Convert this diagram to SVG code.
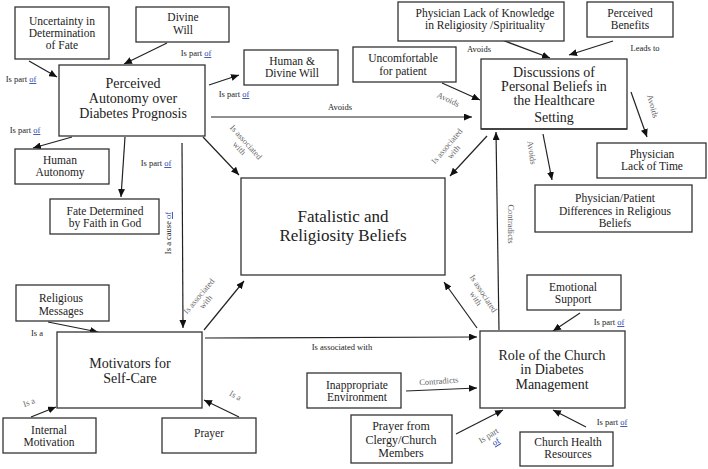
<svg xmlns="http://www.w3.org/2000/svg" width="708" height="469" viewBox="0 0 708 469" font-family="Liberation Serif, Times New Roman, serif">
<style>
.b{fill:#fff;stroke:#333;stroke-width:1.3}
.t{font-family:"Liberation Serif","Times New Roman",serif;fill:#222;text-anchor:middle}
.s12{font-size:11.5px}.s13{font-size:12px}.s14{font-size:14px}.s17{font-size:17px}
.l{font-family:"Liberation Serif","Times New Roman",serif;font-size:8.5px;fill:#222;text-anchor:middle}
.g{fill:#666}
.of{fill:#2a3fb0;text-decoration:underline}
.c{stroke:#222;stroke-width:1.2;fill:none;marker-end:url(#ah)}
</style>
<defs>
<marker id="ah" markerUnits="userSpaceOnUse" markerWidth="8" markerHeight="7" refX="8" refY="3.5" orient="auto">
<path d="M0,0 L8,3.5 L0,7 z" fill="#111"/>
</marker>
</defs>
<rect width="708" height="469" fill="#fff"/>

<g id="connectors">
<line class="c" x1="29" y1="61" x2="57" y2="77"/>
<line class="c" x1="167" y1="43" x2="124" y2="64"/>
<line class="c" x1="209" y1="85" x2="239" y2="75"/>
<line class="c" x1="211" y1="117" x2="472" y2="117"/>
<line class="c" x1="72" y1="137" x2="33" y2="148"/>
<line class="c" x1="125" y1="137" x2="121" y2="197"/>
<line class="c" x1="182" y1="143" x2="183" y2="328"/>
<line class="c" x1="203" y1="137" x2="239" y2="175"/>
<line class="c" x1="204" y1="330" x2="244" y2="281"/>
<line class="c" x1="205" y1="338" x2="477" y2="337"/>
<line class="c" x1="48" y1="322" x2="98" y2="332"/>
<line class="c" x1="31" y1="417" x2="56" y2="407"/>
<line class="c" x1="239" y1="417" x2="204" y2="400"/>
<line class="c" x1="406" y1="391" x2="477" y2="388"/>
<line class="c" x1="456" y1="434" x2="503" y2="410"/>
<line class="c" x1="580" y1="313" x2="553" y2="331"/>
<line class="c" x1="586" y1="427" x2="553" y2="410"/>
<line class="c" x1="477" y1="328" x2="444" y2="282"/>
<line class="c" x1="499" y1="330" x2="496" y2="132"/>
<line class="c" x1="487" y1="136" x2="450" y2="176"/>
<line class="c" x1="442" y1="83" x2="480" y2="100"/>
<line class="c" x1="502" y1="40" x2="550" y2="58"/>
<line class="c" x1="613" y1="41" x2="569" y2="55"/>
<line class="c" x1="631" y1="92" x2="647" y2="137"/>
<line class="c" x1="543" y1="134" x2="552" y2="180"/>

<text class="l" x="21" y="82">Is part <tspan class="of">of</tspan></text>
<text class="l" x="196" y="56">Is part <tspan class="of">of</tspan></text>
<text class="l" x="234" y="97">Is part <tspan class="of">of</tspan></text>
<text class="l" x="340" y="110">Avoids</text>
<text class="l" x="25" y="133">Is part <tspan class="of">of</tspan></text>
<text class="l" x="156" y="166">Is part <tspan class="of">of</tspan></text>
<text class="l" transform="translate(171,233) rotate(-90)">Is a cause <tspan class="of">of</tspan></text>
<g class="l g" transform="translate(244,144) rotate(48)"><text x="0" y="0">Is associated</text><text x="0" y="9">with</text></g>
<g class="l g" transform="translate(449,148) rotate(-50)"><text x="0" y="0">Is associated</text><text x="0" y="9">with</text></g>
<g class="l g" transform="translate(201,298) rotate(-50)"><text x="0" y="0">Is associated</text><text x="0" y="9">with</text></g>
<g class="l g" transform="translate(481,295) rotate(57)"><text x="0" y="0">Is associated</text><text x="0" y="9">with</text></g>
<text class="l" x="342" y="350">Is associated with</text>
<text class="l" x="37" y="336">Is a</text>
<text class="l g" transform="translate(30,405) rotate(-20)">Is a</text>
<text class="l g" transform="translate(234,398) rotate(30)">Is a</text>
<text class="l g" transform="translate(439,384) rotate(-4)">Contradicts</text>
<g class="l" transform="translate(490,438) rotate(-32)"><text class="g" x="0" y="0">Is part</text><text x="3" y="9" class="of">of</text></g>
<text class="l" x="609" y="325">Is part <tspan class="of">of</tspan></text>
<text class="l" x="612" y="425">Is part <tspan class="of">of</tspan></text>
<text class="l g" transform="translate(508,224) rotate(90)">Contradicts</text>
<text class="l g" transform="translate(447,102) rotate(25)">Avoids</text>
<text class="l" x="479" y="52">Avoids</text>
<text class="l" x="645" y="51">Leads to</text>
<text class="l g" transform="translate(650,107) rotate(75)">Avoids</text>
<text class="l g" transform="translate(529,153) rotate(82)">Avoids</text>
</g>

<g id="n-uncertainty"><rect class="b" x="15" y="7" width="94" height="52"/>
<text class="t s12" x="62" y="25">Uncertainty in</text><text class="t s12" x="62" y="37">Determination</text><text class="t s12" x="62" y="49">of Fate</text></g>
<g id="n-divine"><rect class="b" x="136" y="7" width="93" height="35"/>
<text class="t s12" x="183" y="21">Divine</text><text class="t s12" x="183" y="34">Will</text></g>
<g id="n-autonomy"><rect class="b" x="59" y="65" width="146" height="71"/>
<text class="t s14" x="133" y="88">Perceived</text><text class="t s14" x="133" y="103">Autonomy over</text><text class="t s14" x="133" y="118">Diabetes Prognosis</text></g>
<g id="n-humandivine"><rect class="b" x="244" y="50" width="94" height="35"/>
<text class="t s12" x="292" y="65">Human &amp;</text><text class="t s12" x="292" y="77">Divine Will</text></g>
<g id="n-uncomfortable"><rect class="b" x="353" y="47" width="103" height="35"/>
<text class="t s12" x="403" y="62">Uncomfortable</text><text class="t s12" x="403" y="75">for patient</text></g>
<g id="n-lackknowledge"><rect class="b" x="398" y="2" width="166" height="39"/>
<text class="t s12" x="485" y="17">Physician Lack of Knowledge</text><text class="t s12" x="485" y="29">in Religiosity /Spirituality</text></g>
<g id="n-benefits"><rect class="b" x="587" y="2" width="86" height="35"/>
<text class="t s12" x="630" y="17">Perceived</text><text class="t s12" x="630" y="29">Benefits</text></g>
<g id="n-discussions"><rect class="b" x="481" y="59" width="146" height="70"/>
<text class="t s14" x="554" y="77">Discussions of</text><text class="t s14" x="554" y="91">Personal Beliefs in</text><text class="t s14" x="554" y="105">the Healthcare</text><text class="t s14" x="554" y="122">Setting</text>
<line x1="481" y1="129" x2="627" y2="129" stroke="#333" stroke-width="1.3"/></g>
<g id="n-lacktime"><rect class="b" x="597" y="143" width="109" height="35"/>
<text class="t s12" x="652" y="158">Physician</text><text class="t s12" x="652" y="170">Lack of Time</text></g>
<g id="n-differences"><rect class="b" x="535" y="185" width="157" height="47"/>
<text class="t s12" x="615" y="202">Physician/Patient</text><text class="t s12" x="615" y="215">Differences in Religious</text><text class="t s12" x="615" y="227">Beliefs</text></g>
<g id="n-humanautonomy"><rect class="b" x="15" y="149" width="94" height="35"/>
<text class="t s12" x="60" y="164">Human</text><text class="t s12" x="60" y="176">Autonomy</text></g>
<g id="n-fate"><rect class="b" x="50" y="199" width="109" height="35"/>
<text class="t s12" x="105" y="215">Fate Determined</text><text class="t s12" x="105" y="227">by Faith in God</text></g>
<g id="n-fatalistic"><rect class="b" x="241" y="178" width="204" height="97"/>
<text class="t s17" x="343" y="222">Fatalistic and</text><text class="t s17" x="343" y="241">Religiosity Beliefs</text></g>
<g id="n-messages"><rect class="b" x="16" y="285" width="93" height="36"/>
<text class="t s12" x="61" y="302">Religious</text><text class="t s12" x="61" y="315">Messages</text></g>
<g id="n-motivators"><rect class="b" x="57" y="332" width="145" height="76"/>
<text class="t s14" x="130" y="368">Motivators for</text><text class="t s14" x="130" y="383">Self-Care</text></g>
<g id="n-internal"><rect class="b" x="3" y="418" width="93" height="35"/>
<text class="t s12" x="49" y="434">Internal</text><text class="t s12" x="49" y="446">Motivation</text></g>
<g id="n-prayer"><rect class="b" x="162" y="418" width="94" height="35"/>
<text class="t s12" x="209" y="437">Prayer</text></g>
<g id="n-inappropriate"><rect class="b" x="307" y="373" width="94" height="35"/>
<text class="t s12" x="357" y="389">Inappropriate</text><text class="t s12" x="357" y="401">Environment</text></g>
<g id="n-clergy"><rect class="b" x="351" y="415" width="101" height="48"/>
<text class="t s13" x="401" y="430">Prayer from</text><text class="t s13" x="401" y="443.5">Clergy/Church</text><text class="t s13" x="401" y="457">Members</text></g>
<g id="n-church"><rect class="b" x="480" y="331" width="145" height="77"/>
<text class="t s14" x="552" y="360">Role of the Church</text><text class="t s14" x="552" y="374">in Diabetes</text><text class="t s14" x="552" y="389">Management</text></g>
<g id="n-emotional"><rect class="b" x="527" y="275" width="94" height="35"/>
<text class="t s12" x="573" y="291">Emotional</text><text class="t s12" x="573" y="303">Support</text></g>
<g id="n-resources"><rect class="b" x="520" y="432" width="93" height="34"/>
<text class="t s12" x="568" y="446">Church Health</text><text class="t s12" x="568" y="458">Resources</text></g>
</svg>
